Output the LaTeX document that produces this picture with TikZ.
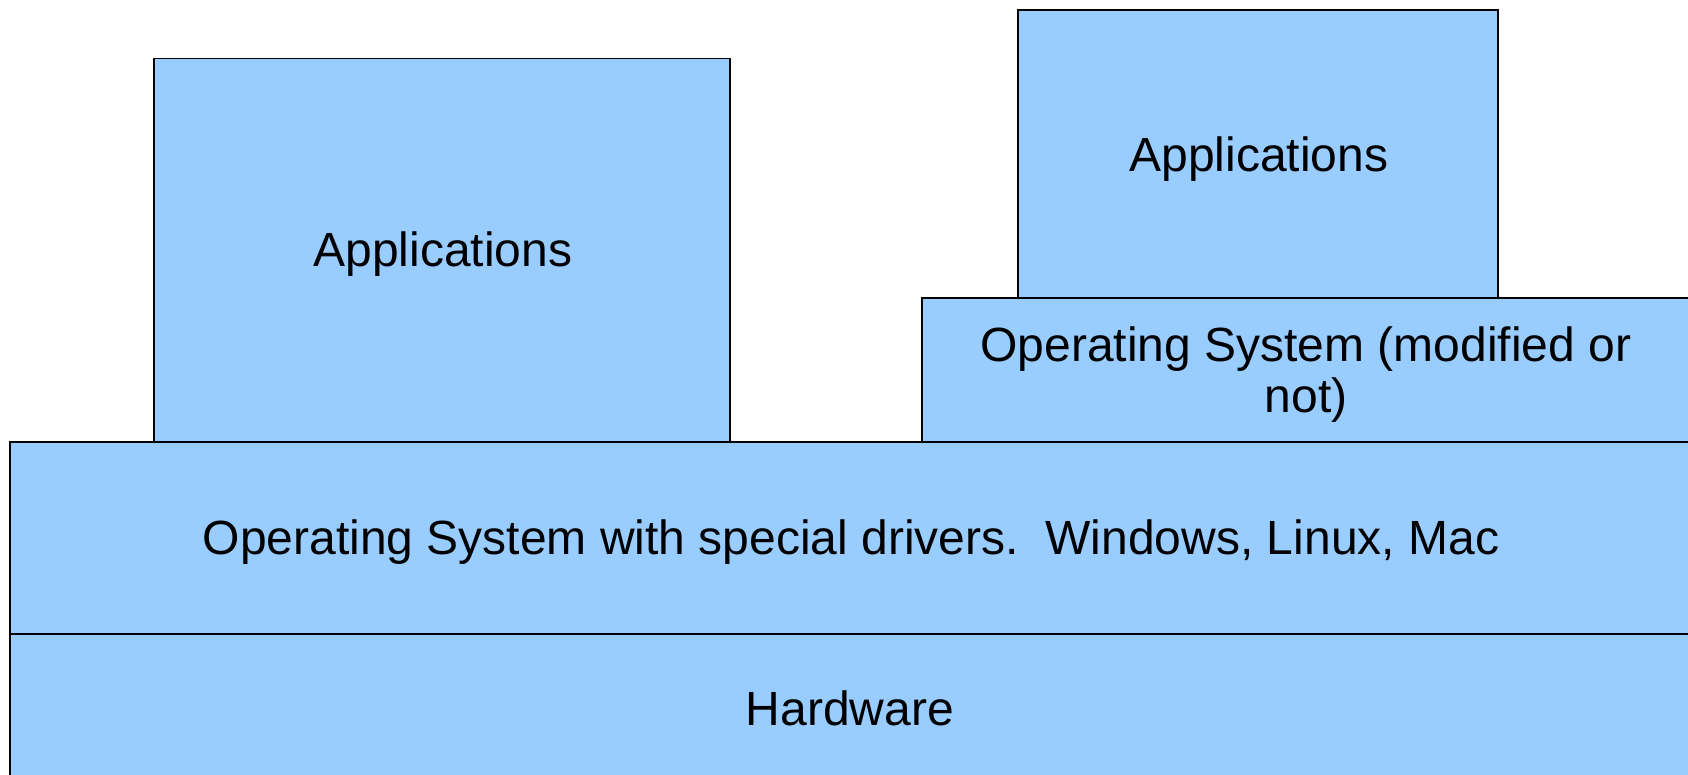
\documentclass[tikz,border=0pt]{standalone}
\usepackage{fontspec}
\setmainfont{Liberation Sans}
\definecolor{boxblue}{HTML}{99CCFF}
\begin{document}
\begin{tikzpicture}[x=1pt,y=-1pt,
  layer/.style={draw=black,fill=boxblue,line width=1.5pt},
  lbl/.style={font=\fontsize{48}{50.5}\selectfont,align=center,inner sep=0pt}]
\useasboundingbox (0,0) rectangle (1688,775);
\clip (0,0) rectangle (1688,775);
\fill[white] (0,0) rectangle (1688,775);
\draw[layer] (10,634) rectangle (1700,790);
\draw[layer] (10,442) rectangle (1700,634);
\draw[layer] (922,298) rectangle (1700,442);
\draw[layer] (154,58.5) rectangle (730,442);
\draw[layer] (1018,10) rectangle (1498,298);
\node[lbl] (app1) at (443,254.5) {Applications};
\node[lbl] (app2) at (1259,159.5) {Applications};
\node[lbl] (osmod) at (1306,374.5) {Operating System (modified or\\not)};
\node[lbl] (osdrv) at (851,542.5) {Operating System with special drivers.\ \ Windows, Linux, Mac};
\node[lbl] (hw) at (850,708.5) {Hardware};
\end{tikzpicture}
\end{document}
